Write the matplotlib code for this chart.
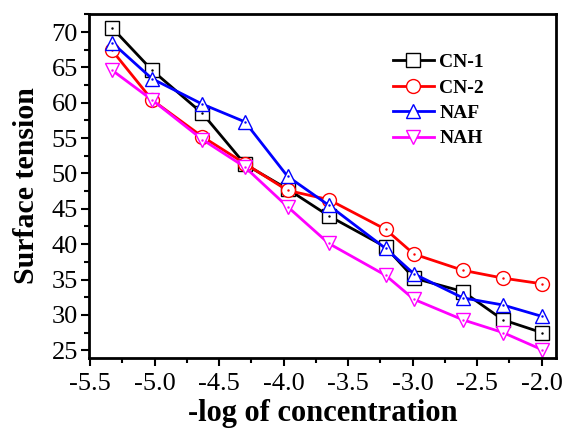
import matplotlib.pyplot as plt
from matplotlib.ticker import MultipleLocator

# -log of concentration (x) and surface tension of each sample
x = [-5.33, -5.02, -4.63, -4.30, -3.97, -3.65, -3.21, -2.99, -2.61, -2.30, -2.00]
cn1 = [70.6, 64.6, 58.5, 51.3, 47.8, 44.0, 39.6, 35.2, 33.3, 29.3, 27.5]
cn2 = [67.4, 60.4, 55.2, 51.4, 47.6, 46.3, 42.1, 38.6, 36.3, 35.2, 34.4]
naf = [68.5, 63.4, 59.8, 57.3, 49.6, 45.5, 39.4, 35.8, 32.4, 31.4, 29.8]
nah = [64.6, 60.4, 54.8, 50.9, 45.3, 40.1, 35.6, 32.2, 29.3, 27.5, 25.1]

series = [
    ("CN-1", cn1, "black", "s"),
    ("CN-2", cn2, "red", "o"),
    ("NAF", naf, "blue", "^"),
    ("NAH", nah, "magenta", "v"),
]

plt.rcParams["font.family"] = ["Liberation Serif", "DejaVu Serif"]

fig = plt.figure(figsize=(5.66, 4.45), dpi=100)
ax = fig.add_axes([0.157, 0.1955, 0.825, 0.773])

for nombre, valores, color, marca in series:
    ax.plot(x, valores, color=color, lw=2.0, marker=marca, ms=10,
            mfc="white", mec=color, mew=1.0, label=nombre)
    # punto pequeño en el centro del marcador
    ax.plot(x, valores, ls="none", marker=".", ms=1.5, color=color)

ax.set_xlim(-5.51, -1.89)
ax.set_ylim(23.9, 72.55)
ax.xaxis.set_major_locator(MultipleLocator(0.5))
ax.xaxis.set_minor_locator(MultipleLocator(0.25))
ax.yaxis.set_major_locator(MultipleLocator(5))
ax.yaxis.set_minor_locator(MultipleLocator(2.5))
ax.set_xticks([-5.5, -5.0, -4.5, -4.0, -3.5, -3.0, -2.5, -2.0])
ax.set_xticklabels(["-5.5", "-5.0", "-4.5", "-4.0", "-3.5", "-3.0", "-2.5", "-2.0"])

ax.tick_params(which="major", direction="out", length=6, width=1.5,
               labelsize=19, pad=2)
ax.tick_params(which="minor", direction="out", length=3.5, width=1.5)
ax.tick_params(axis="x", pad=5)
for lado in ax.spines.values():
    lado.set_linewidth(2.0)

ax.set_xlabel("-log of concentration", fontsize=22, fontweight="bold", labelpad=3)
ax.set_ylabel("Surface tension", fontsize=21.5, fontweight="bold", labelpad=8)

ax.legend(loc="upper left", bbox_to_anchor=(0.63, 0.913), frameon=False,
          prop={"size": 14, "weight": "bold"}, handlelength=2.1,
          handletextpad=0.3, labelspacing=0.4, borderpad=0)

fig.savefig("out.png", dpi=100)
